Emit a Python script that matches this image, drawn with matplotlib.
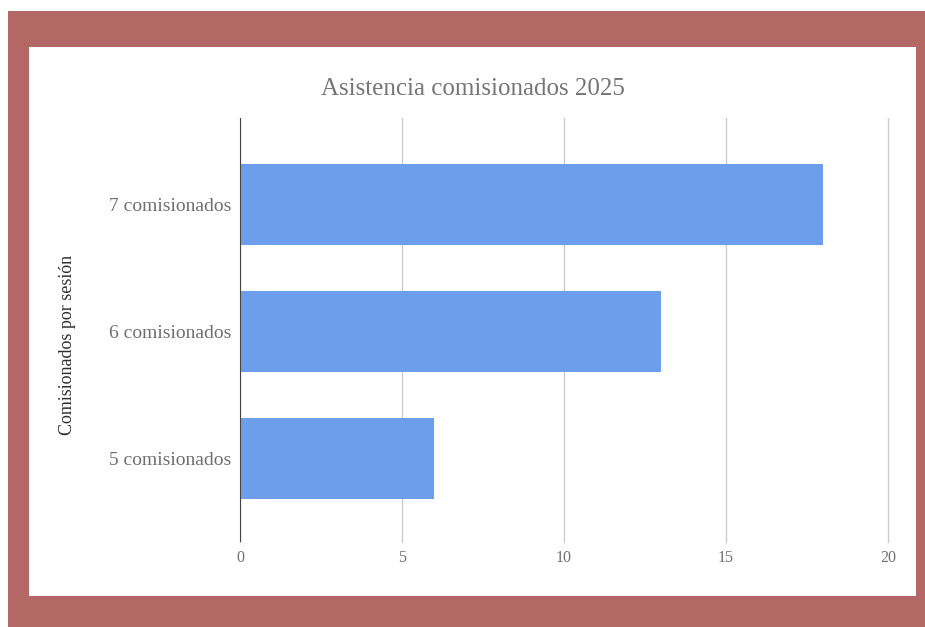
import matplotlib.pyplot as plt
from matplotlib.patches import Rectangle

# Data
categorias = ['5 comisionados', '6 comisionados', '7 comisionados']
asistencias = [6, 13, 18]
xticks = [0, 5, 10, 15, 20]

W, H = 925, 627
fig = plt.figure(figsize=(W / 100, H / 100), dpi=100)
fig.patch.set_facecolor('white')

# red frame and white panel (pixel boxes converted to figure fraction)
def box(x0, y0, x1, y1, color):
    fig.patches.append(Rectangle((x0 / W, 1 - y1 / H), (x1 - x0) / W, (y1 - y0) / H,
                                 transform=fig.transFigure, facecolor=color,
                                 edgecolor='none', zorder=-2))

box(8, 11, 925, 627, '#b46866')
box(29, 47, 916, 596, 'white')

ax = fig.add_axes([240 / W, 1 - 542 / H, (888 - 240) / W, (542 - 118) / H])
ax.set_zorder(1)
ax.set_facecolor('white')

ax.barh(range(len(categorias)), asistencias, height=0.64, color='#6d9eeb', zorder=3)
ax.set_xlim(0, 20)
ax.set_ylim(-0.66, 2.68)
ax.set_xticks(xticks)
ax.set_yticks(range(len(categorias)))
ax.set_yticklabels(categorias)
for g in ax.get_xgridlines():
    g.set_clip_on(False)
ax.grid(axis='x', color='#cccccc', lw=1, zorder=0)
ax.axvline(0, color='#444444', lw=1.5, zorder=4)

for s in ax.spines.values():
    s.set_visible(False)
ax.tick_params(length=0)
ax.tick_params(axis='y', pad=6, labelsize=14, labelcolor='#6f6f6f')
ax.tick_params(axis='x', pad=6, labelsize=11.5, labelcolor='#6f6f6f')
for t in ax.get_xticklabels() + ax.get_yticklabels():
    t.set_family('Liberation Serif')

ax.set_ylabel('Comisionados por sesión', family='Liberation Serif', fontsize=13,
              color='#2f2f2f', labelpad=0)
ax.yaxis.set_label_coords((76 - 240) / (888 - 240), (542 - 345) / (542 - 118))

fig.text(473 / W, 1 - 89 / H, 'Asistencia comisionados 2025', family='Liberation Serif',
         fontsize=18, color='#757575', ha='center', va='center')

fig.savefig('out.png', dpi=100)
